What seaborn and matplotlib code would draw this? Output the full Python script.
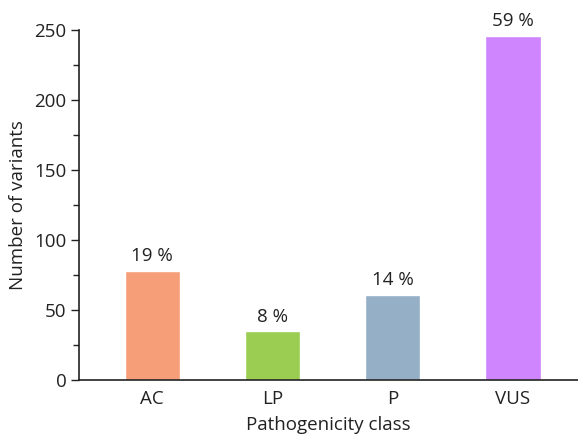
import matplotlib.pyplot as plt
import seaborn as sns
import pandas as pd
from matplotlib.ticker import MultipleLocator

# data
classes = ['AC', 'LP', 'P', 'VUS']
counts = [78, 35, 61, 246]
percent_labels = ['19 %', '8 %', '14 %', '59 %']
colors = ['#F59E78', '#9BCD52', '#95AFC6', '#CE85FD']

sns.set_style('ticks')
plt.rcParams['font.family'] = ['Open Sans', 'DejaVu Sans']

df = pd.DataFrame({'cls': classes, 'n': counts})

fig = plt.figure(figsize=(5.78, 4.37), dpi=100)
ax = fig.add_axes([0.137, 0.130, 0.863, 0.801])

sns.barplot(data=df, x='cls', y='n', hue='cls', palette=colors,
            width=0.46, legend=False, saturation=1, ax=ax)
# one container per hue level
for i, c in enumerate(ax.containers):
    ax.bar_label(c, labels=[percent_labels[i]], padding=4, fontsize=13.5, color='#222222')

ax.set_xlim(-0.607, 3.54)
ax.set_ylim(0, 250)
ax.yaxis.set_major_locator(MultipleLocator(50))
ax.yaxis.set_minor_locator(MultipleLocator(25))
ax.tick_params(axis='y', which='major', length=6, width=1, labelsize=13.5, colors='#222222', pad=3)
ax.tick_params(axis='y', which='minor', length=4, width=1, color='#222222')
ax.tick_params(axis='x', length=0, labelsize=13.5, colors='#222222', pad=7)
sns.despine(ax=ax)
for s in ['left', 'bottom']:
    ax.spines[s].set_color('#222222')
    ax.spines[s].set_linewidth(1.2)

ax.set_xlabel('Pathogenicity class', fontsize=13.5, color='#222222', labelpad=6)
ax.set_ylabel('Number of variants', fontsize=13.5, color='#222222', labelpad=5)

fig.savefig('out.png', dpi=100)
